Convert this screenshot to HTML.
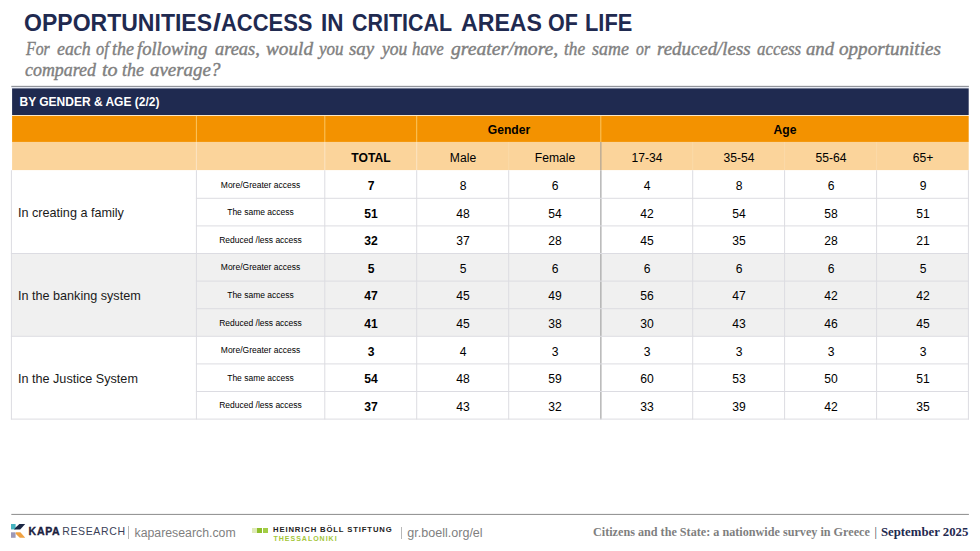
<!DOCTYPE html>
<html><head><meta charset="utf-8">
<style>
*{margin:0;padding:0;box-sizing:border-box}
html,body{width:980px;height:551px;background:#fff;overflow:hidden}
body{position:relative;font-family:"Liberation Sans",sans-serif;color:#000}
.abs{position:absolute;white-space:nowrap}
.tw{top:10px;font-size:23.4px;font-weight:bold;color:#1f2a50;line-height:26px;transform-origin:0 0;transform:scaleX(0.9757)}
.sub{font-family:"Liberation Serif",serif;font-style:italic;font-size:18.2px;color:#808080;line-height:22px;transform-origin:0 0;transform:scaleX(1.0346);-webkit-text-stroke:0.4px #808080}
#navy{left:12px;top:88px;font-size:12.9px;font-weight:bold;color:#fff;line-height:28px;padding-left:7.5px;transform-origin:7.5px 0;transform:scaleX(0.93)}
.c{text-align:center;font-size:12.5px;line-height:16px;transform:translateX(-50%) scaleX(0.97)}
.b{font-weight:bold}
.s{font-size:8.5px;transform:translateX(-50%)}
.l{left:18px;font-size:12.2px;line-height:16px;transform-origin:0 0;transform:translateY(-0.4px) scaleX(1.035);color:#1a1a1a}
.ft{font-size:13px;color:#7f7f7f;line-height:16px}
</style></head><body>

<svg class="abs" style="left:0;top:0" width="980" height="551" viewBox="0 0 980 551">
<rect x="11.3" y="85.85" width="957.6" height="1" fill="#80838a"/>
<rect x="11.3" y="87" width="957.6" height="1.4" fill="#e6e9f3"/>
<rect x="12.1" y="88.4" width="956.6" height="26.6" fill="#1f2a50"/>
<rect x="12.1" y="115" width="956.6" height="1.1" fill="#fbe6c3"/>
<rect x="12.1" y="116" width="956.6" height="26" fill="#f39200"/>
<rect x="12.1" y="141.9" width="956.6" height="28.2" fill="#fbd49b"/>
<rect x="12" y="253.5" width="956.5" height="82.8" fill="#f0f0f0"/>
<rect x="195.9" y="116" width="1" height="26" fill="#fbc660"/>
<rect x="195.9" y="142" width="1" height="28" fill="#fce4c2"/>
<rect x="324.3" y="116" width="1" height="26" fill="#fbc660"/>
<rect x="324.3" y="142" width="1" height="28" fill="#fce4c2"/>
<rect x="416.2" y="116" width="1" height="26" fill="#fbc660"/>
<rect x="416.2" y="142" width="1" height="28" fill="#fce4c2"/>
<rect x="508.2" y="142" width="1" height="28" fill="#fbdaa9"/>
<rect x="600.3" y="116" width="1" height="26" fill="#fbc660"/>
<rect x="600.2" y="142" width="1.3" height="28" fill="#b3a694"/>
<rect x="692.2" y="142" width="1" height="28" fill="#fbdaa9"/>
<rect x="784.1" y="142" width="1" height="28" fill="#fbdaa9"/>
<rect x="876.1" y="142" width="1" height="28" fill="#fbdaa9"/>
<rect x="10.9" y="170.2" width="1" height="249.3" fill="#dcdce2"/>
<rect x="195.9" y="170.2" width="1" height="249.3" fill="#dcdce2"/>
<rect x="324.3" y="170.2" width="1" height="249.3" fill="#dcdce2"/>
<rect x="416.2" y="170.2" width="1" height="249.3" fill="#dcdce2"/>
<rect x="508.2" y="170.2" width="1" height="249.3" fill="#dcdce2"/>
<rect x="600.3" y="170.2" width="1.15" height="249.3" fill="#a0a0a0"/>
<rect x="692.2" y="170.2" width="1" height="249.3" fill="#dcdce2"/>
<rect x="784.1" y="170.2" width="1" height="249.3" fill="#dcdce2"/>
<rect x="876.1" y="170.2" width="1" height="249.3" fill="#dcdce2"/>
<rect x="967.9" y="170.2" width="1" height="249.3" fill="#dcdce2"/>
<rect x="195.9" y="197.80" width="773.0" height="1" fill="#dcdce2"/>
<rect x="195.9" y="225.40" width="773.0" height="1" fill="#dcdce2"/>
<rect x="10.9" y="253.00" width="958.0" height="1" fill="#dcdce2"/>
<rect x="195.9" y="280.60" width="773.0" height="1" fill="#dcdce2"/>
<rect x="195.9" y="308.20" width="773.0" height="1" fill="#dcdce2"/>
<rect x="10.9" y="335.80" width="958.0" height="1" fill="#dcdce2"/>
<rect x="195.9" y="363.40" width="773.0" height="1" fill="#dcdce2"/>
<rect x="195.9" y="391.00" width="773.0" height="1" fill="#dcdce2"/>
<rect x="10.9" y="418.60" width="958.0" height="1" fill="#dcdce2"/>
<rect x="11.3" y="513.9" width="957.6" height="1" fill="#8c8c8c"/>
</svg>
<div class="abs tw" style="left:24.12px;transform:scaleX(0.9845)">OPPORTUNITIES</div>
<div class="abs tw" style="left:212.90px;transform:scaleX(1.2286)">/</div>
<div class="abs tw" style="left:221.11px;transform:scaleX(0.9381)">ACCESS</div>
<div class="abs tw" style="left:320.97px;transform:scaleX(0.9614)">IN</div>
<div class="abs tw" style="left:351.90px;transform:scaleX(0.9159)">CRITICAL</div>
<div class="abs tw" style="left:461.10px;transform:scaleX(0.9889)">AREAS</div>
<div class="abs tw" style="left:547.80px;transform:scaleX(0.9194)">OF</div>
<div class="abs tw" style="left:584.72px;transform:scaleX(0.9337)">LIFE</div>
<div class="abs sub" style="left:25.59px;top:38px;transform:scaleX(0.8722)">For</div>
<div class="abs sub" style="left:56.51px;top:38px;transform:scaleX(0.9802)">each</div>
<div class="abs sub" style="left:95.85px;top:38px;transform:scaleX(0.8987)">of</div>
<div class="abs sub" style="left:112.21px;top:38px;transform:scaleX(0.9878)">the</div>
<div class="abs sub" style="left:137.30px;top:38px;transform:scaleX(1.0211)">following</div>
<div class="abs sub" style="left:214.99px;top:38px;transform:scaleX(1.0124)">areas,</div>
<div class="abs sub" style="left:265.88px;top:38px;transform:scaleX(1.0567)">would</div>
<div class="abs sub" style="left:319.00px;top:38px;transform:scaleX(0.9348)">you</div>
<div class="abs sub" style="left:349.29px;top:38px;transform:scaleX(1.0381)">say</div>
<div class="abs sub" style="left:381.54px;top:38px;transform:scaleX(0.9641)">you</div>
<div class="abs sub" style="left:412.45px;top:38px;transform:scaleX(0.9228)">have</div>
<div class="abs sub" style="left:451.30px;top:38px;transform:scaleX(1.0816)">greater/more,</div>
<div class="abs sub" style="left:564.24px;top:38px;transform:scaleX(0.9498)">the</div>
<div class="abs sub" style="left:592.30px;top:38px;transform:scaleX(0.9857)">same</div>
<div class="abs sub" style="left:635.87px;top:38px;transform:scaleX(0.8671)">or</div>
<div class="abs sub" style="left:656.77px;top:38px;transform:scaleX(1.0380)">reduced/less</div>
<div class="abs sub" style="left:756.53px;top:38px;transform:scaleX(0.9308)">access</div>
<div class="abs sub" style="left:805.69px;top:38px;transform:scaleX(1.0297)">and</div>
<div class="abs sub" style="left:839.47px;top:38px;transform:scaleX(1.0501)">opportunities</div>
<div class="abs sub" style="left:24.81px;top:59px;transform:scaleX(0.9832)">compared</div>
<div class="abs sub" style="left:102.32px;top:59px;transform:scaleX(1.1045)">to</div>
<div class="abs sub" style="left:122.01px;top:59px;transform:scaleX(0.9878)">the</div>
<div class="abs sub" style="left:149.88px;top:59px;transform:scaleX(1.0400)">average?</div>
<div id="navy" class="abs">BY GENDER &amp; AGE (2/2)</div>
<div class="abs c b" style="left:508.7px;top:122px">Gender</div>
<div class="abs c b" style="left:784.7px;top:122px">Age</div>
<div class="abs c b" style="left:370.7px;top:150px">TOTAL</div>
<div class="abs c" style="left:462.7px;top:150px">Male</div>
<div class="abs c" style="left:554.7px;top:150px">Female</div>
<div class="abs c" style="left:646.7px;top:150px">17-34</div>
<div class="abs c" style="left:738.7px;top:150px">35-54</div>
<div class="abs c" style="left:830.7px;top:150px">55-64</div>
<div class="abs c" style="left:922.7px;top:150px">65+</div>
<div class="abs c s" style="left:260.5px;top:176.5px">More/Greater access</div>
<div class="abs c b" style="left:370.7px;top:178.0px">7</div>
<div class="abs c" style="left:462.7px;top:178.0px">8</div>
<div class="abs c" style="left:554.7px;top:178.0px">6</div>
<div class="abs c" style="left:646.7px;top:178.0px">4</div>
<div class="abs c" style="left:738.7px;top:178.0px">8</div>
<div class="abs c" style="left:830.7px;top:178.0px">6</div>
<div class="abs c" style="left:922.7px;top:178.0px">9</div>
<div class="abs c s" style="left:260.5px;top:204.1px">The same access</div>
<div class="abs c b" style="left:370.7px;top:205.6px">51</div>
<div class="abs c" style="left:462.7px;top:205.6px">48</div>
<div class="abs c" style="left:554.7px;top:205.6px">54</div>
<div class="abs c" style="left:646.7px;top:205.6px">42</div>
<div class="abs c" style="left:738.7px;top:205.6px">54</div>
<div class="abs c" style="left:830.7px;top:205.6px">58</div>
<div class="abs c" style="left:922.7px;top:205.6px">51</div>
<div class="abs c s" style="left:260.5px;top:231.7px">Reduced /less access</div>
<div class="abs c b" style="left:370.7px;top:233.2px">32</div>
<div class="abs c" style="left:462.7px;top:233.2px">37</div>
<div class="abs c" style="left:554.7px;top:233.2px">28</div>
<div class="abs c" style="left:646.7px;top:233.2px">45</div>
<div class="abs c" style="left:738.7px;top:233.2px">35</div>
<div class="abs c" style="left:830.7px;top:233.2px">28</div>
<div class="abs c" style="left:922.7px;top:233.2px">21</div>
<div class="abs c s" style="left:260.5px;top:259.3px">More/Greater access</div>
<div class="abs c b" style="left:370.7px;top:260.8px">5</div>
<div class="abs c" style="left:462.7px;top:260.8px">5</div>
<div class="abs c" style="left:554.7px;top:260.8px">6</div>
<div class="abs c" style="left:646.7px;top:260.8px">6</div>
<div class="abs c" style="left:738.7px;top:260.8px">6</div>
<div class="abs c" style="left:830.7px;top:260.8px">6</div>
<div class="abs c" style="left:922.7px;top:260.8px">5</div>
<div class="abs c s" style="left:260.5px;top:286.9px">The same access</div>
<div class="abs c b" style="left:370.7px;top:288.4px">47</div>
<div class="abs c" style="left:462.7px;top:288.4px">45</div>
<div class="abs c" style="left:554.7px;top:288.4px">49</div>
<div class="abs c" style="left:646.7px;top:288.4px">56</div>
<div class="abs c" style="left:738.7px;top:288.4px">47</div>
<div class="abs c" style="left:830.7px;top:288.4px">42</div>
<div class="abs c" style="left:922.7px;top:288.4px">42</div>
<div class="abs c s" style="left:260.5px;top:314.5px">Reduced /less access</div>
<div class="abs c b" style="left:370.7px;top:316.0px">41</div>
<div class="abs c" style="left:462.7px;top:316.0px">45</div>
<div class="abs c" style="left:554.7px;top:316.0px">38</div>
<div class="abs c" style="left:646.7px;top:316.0px">30</div>
<div class="abs c" style="left:738.7px;top:316.0px">43</div>
<div class="abs c" style="left:830.7px;top:316.0px">46</div>
<div class="abs c" style="left:922.7px;top:316.0px">45</div>
<div class="abs c s" style="left:260.5px;top:342.1px">More/Greater access</div>
<div class="abs c b" style="left:370.7px;top:343.6px">3</div>
<div class="abs c" style="left:462.7px;top:343.6px">4</div>
<div class="abs c" style="left:554.7px;top:343.6px">3</div>
<div class="abs c" style="left:646.7px;top:343.6px">3</div>
<div class="abs c" style="left:738.7px;top:343.6px">3</div>
<div class="abs c" style="left:830.7px;top:343.6px">3</div>
<div class="abs c" style="left:922.7px;top:343.6px">3</div>
<div class="abs c s" style="left:260.5px;top:369.7px">The same access</div>
<div class="abs c b" style="left:370.7px;top:371.2px">54</div>
<div class="abs c" style="left:462.7px;top:371.2px">48</div>
<div class="abs c" style="left:554.7px;top:371.2px">59</div>
<div class="abs c" style="left:646.7px;top:371.2px">60</div>
<div class="abs c" style="left:738.7px;top:371.2px">53</div>
<div class="abs c" style="left:830.7px;top:371.2px">50</div>
<div class="abs c" style="left:922.7px;top:371.2px">51</div>
<div class="abs c s" style="left:260.5px;top:397.3px">Reduced /less access</div>
<div class="abs c b" style="left:370.7px;top:398.8px">37</div>
<div class="abs c" style="left:462.7px;top:398.8px">43</div>
<div class="abs c" style="left:554.7px;top:398.8px">32</div>
<div class="abs c" style="left:646.7px;top:398.8px">33</div>
<div class="abs c" style="left:738.7px;top:398.8px">39</div>
<div class="abs c" style="left:830.7px;top:398.8px">42</div>
<div class="abs c" style="left:922.7px;top:398.8px">35</div>
<div class="abs l" style="top:205.1px">In creating a family</div>
<div class="abs l" style="top:287.9px">In the banking system</div>
<div class="abs l" style="top:370.7px">In the Justice System</div>
<svg class="abs" style="left:11px;top:524px" width="15" height="14" viewBox="0 0 15 14">
<polygon points="0,0 4.6,0 4.6,5.4 0,5.4" fill="#45b3c0"/>
<polygon points="8.4,0 14.2,0 9.2,5.5 3,5.5 4.6,3.6" fill="#1b2846"/>
<polygon points="0,8.3 4.6,8.3 4.6,13.8 0,13.8" fill="#9d99b8"/>
<polygon points="5,8.2 9.4,8.2 14.2,13.8 8.8,13.8 4.6,9.8" fill="#f0a242"/>
</svg>
<div class="abs" style="left:28.6px;top:523px;font-size:10.5px;font-weight:bold;letter-spacing:0.7px;line-height:16px;color:#1b2140;-webkit-text-stroke:0.35px #1b2140">KAPA</div>
<div class="abs" style="left:62.3px;top:523px;font-size:10.5px;letter-spacing:0.62px;line-height:16px;color:#3a3f58">RESEARCH</div>
<div class="abs" style="left:128px;top:526px;width:1px;height:13px;background:#b8b8b8"></div>
<div class="abs ft" id="kurl" style="left:134.5px;top:525px;font-size:12.3px">kaparesearch.com</div>
<div class="abs" style="left:252px;top:527.5px;width:4.5px;height:5.2px;background:#dfeab8"></div>
<div class="abs" style="left:257.4px;top:527.5px;width:4.6px;height:5.2px;background:#8fbf2a"></div>
<div class="abs" style="left:263px;top:527.5px;width:5px;height:5.2px;background:#a2cd45"></div>
<div class="abs" id="hbs" style="left:273px;top:525px;font-size:7.7px;font-weight:bold;letter-spacing:0.86px;line-height:10px;color:#222">HEINRICH BÖLL STIFTUNG</div>
<div class="abs" id="thes" style="left:273.5px;top:535px;font-size:7px;font-weight:bold;letter-spacing:1.0px;line-height:8px;color:#a4c639">THESSALONIKI</div>
<div class="abs" style="left:401px;top:527px;width:1px;height:12px;background:#b8b8b8"></div>
<div class="abs ft" id="gurl" style="left:407.3px;top:525px;font-size:12.55px">gr.boell.org/el</div>
<div class="abs" id="rf1" style="left:592.6px;top:524.4px;font-family:'Liberation Serif',serif;font-weight:bold;font-size:12px;line-height:16px;color:#7f7f7f;transform-origin:0 0;transform:scaleX(1.0137)">Citizens and the State: a nationwide survey in Greece</div>
<div class="abs" id="rf2" style="left:874.4px;top:524.4px;font-family:'Liberation Serif',serif;font-size:12px;line-height:16px;color:#1f2a50">|</div>
<div class="abs" id="rf3" style="left:881px;top:524.4px;font-family:'Liberation Serif',serif;font-weight:bold;font-size:12px;line-height:16px;color:#1f2a50;transform-origin:0 0;transform:scaleX(1.063)">September 2025</div>

</body></html>
